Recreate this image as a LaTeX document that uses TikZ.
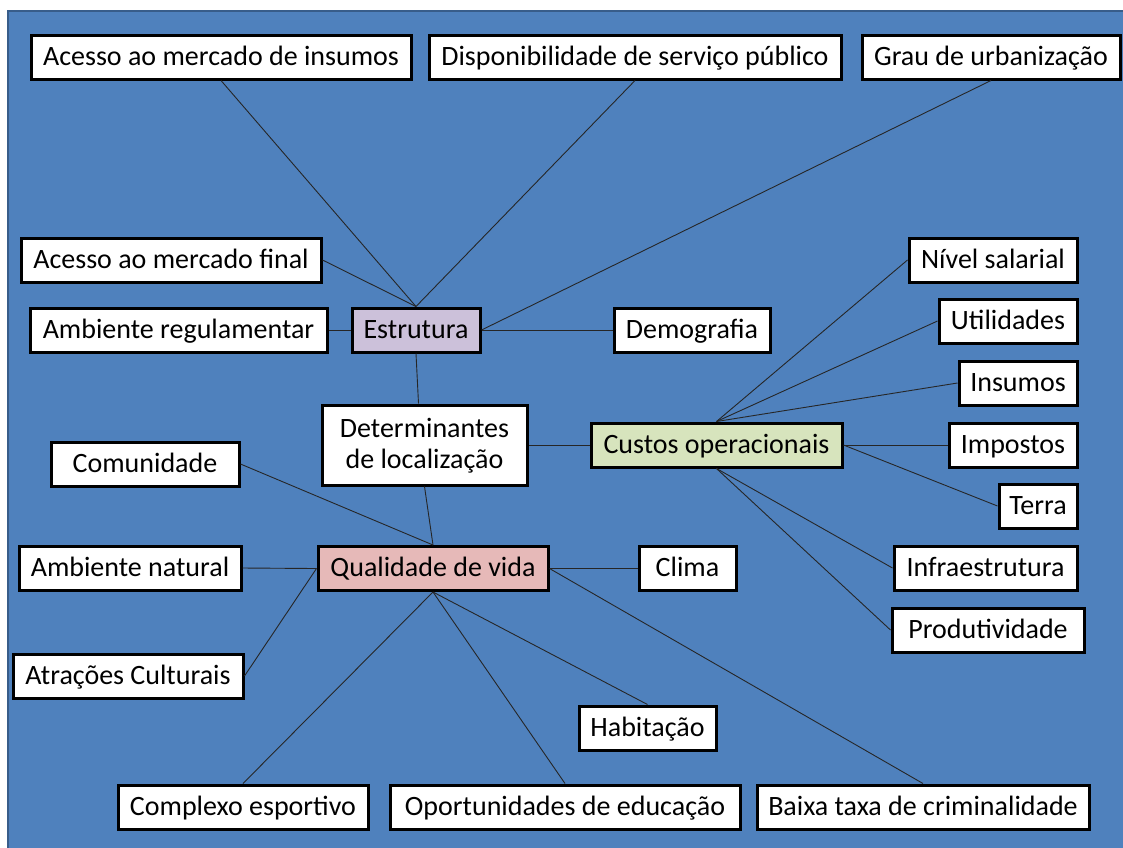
\documentclass[tikz,border=0pt]{standalone}
\usepackage{fontspec}
\setmainfont{Carlito}
\definecolor{bgblue}{HTML}{4F81BD}
\definecolor{bgborder}{HTML}{385D8A}
\definecolor{estfill}{HTML}{CCC1DA}
\definecolor{custfill}{HTML}{D7E4BD}
\definecolor{qvfill}{HTML}{E6B9B8}
\begin{document}
\begin{tikzpicture}[x=1pt,y=-1pt,
  box/.style={draw=black,line width=3pt,fill=white,inner sep=0pt,
    text height=21pt,text depth=5pt,
    minimum height=44pt,font=\fontsize{28}{31}\selectfont,align=center},
  link/.style={draw=black!85,line width=0.9pt}]
\useasboundingbox (0,0) rectangle (1123,847);
\fill[white] (0,0) rectangle (1123,847);
\draw[fill=bgblue,draw=bgborder,line width=2pt] (8,11) rectangle (1135,860);
% nodes
\node[box,minimum width=380pt] (ins) at (221,57) {Acesso ao mercado de insumos};
\node[box,minimum width=412pt] (dsp) at (635,57) {Disponibilidade de serviço público};
\node[box,minimum width=258pt] (gra) at (991,57) {Grau de urbanização};
\node[box,minimum width=300pt] (amf) at (171,260) {Acesso ao mercado final};
\node[box,minimum width=297pt] (amr) at (178.5,330) {Ambiente regulamentar};
\node[box,minimum width=128pt,fill=estfill] (es) at (416,330) {Estrutura};
\node[box,minimum width=156pt] (dem) at (692,330) {Demografia};
\node[box,minimum width=168pt] (niv) at (993,260) {Nível salarial};
\node[box,minimum width=138pt] (uti) at (1008,321) {Utilidades};
\node[box,minimum width=118pt] (isu) at (1018,383) {Insumos};
\node[box,minimum width=205pt,minimum height=80pt,text height=52pt,text depth=5pt] (de) at (424.5,445) {Determinantes\\de localização};
\node[box,minimum width=251pt,fill=custfill] (cu) at (716.5,445) {Custos operacionais};
\node[box,minimum width=128pt] (imp) at (1013,445) {Impostos};
\node[box,minimum width=78pt] (ter) at (1038,506) {Terra};
\node[box,minimum width=188pt] (com) at (145,464) {Comunidade};
\node[box,minimum width=222pt] (amn) at (130,568) {Ambiente natural};
\node[box,minimum width=230pt,fill=qvfill] (qv) at (433,568.5) {Qualidade de vida};
\node[box,minimum width=97pt] (cli) at (687.5,568.5) {Clima};
\node[box,minimum width=183pt] (inf) at (985.5,568) {Infraestrutura};
\node[box,minimum width=192pt] (pro) at (988,630) {Produtividade};
\node[box,minimum width=230pt] (atr) at (128,676) {Atrações Culturais};
\node[box,minimum width=137pt] (hab) at (647.5,728) {Habitação};
\node[box,minimum width=250pt] (cpx) at (243,807) {Complexo esportivo};
\node[box,minimum width=350pt] (opo) at (565,807) {Oportunidades de educação};
\node[box,minimum width=332pt] (bai) at (923,807) {Baixa taxa de criminalidade};
% connectors
\draw[link] (ins.south) -- (es.north);
\draw[link] (dsp.south) -- (es.north);
\draw[link] (amf.east) -- (es.north);
\draw[link] (gra.south) -- (es.east);
\draw[link] (amr.east) -- (es.west);
\draw[link] (es.east) -- (dem.west);
\draw[link] (es.south) -- ([xshift=-6pt]de.north);
\draw[link] (de.east) -- (cu.west);
\draw[link] (de.south) -- (qv.north);
\draw[link] (cu.north) -- (niv.west);
\draw[link] (cu.north) -- (uti.west);
\draw[link] (cu.north) -- (isu.west);
\draw[link] (cu.east) -- (imp.west);
\draw[link] (cu.east) -- (ter.west);
\draw[link] (cu.south) -- (inf.west);
\draw[link] (cu.south) -- (pro.west);
\draw[link] (com.east) -- (qv.north);
\draw[link] (amn.east) -- (qv.west);
\draw[link] (atr.east) -- (qv.west);
\draw[link] (qv.east) -- (cli.west);
\draw[link] (qv.east) -- (bai.north);
\draw[link] (qv.south) -- (cpx.north);
\draw[link] (qv.south) -- (opo.north);
\draw[link] (qv.south) -- (hab.north);
\end{tikzpicture}
\end{document}
